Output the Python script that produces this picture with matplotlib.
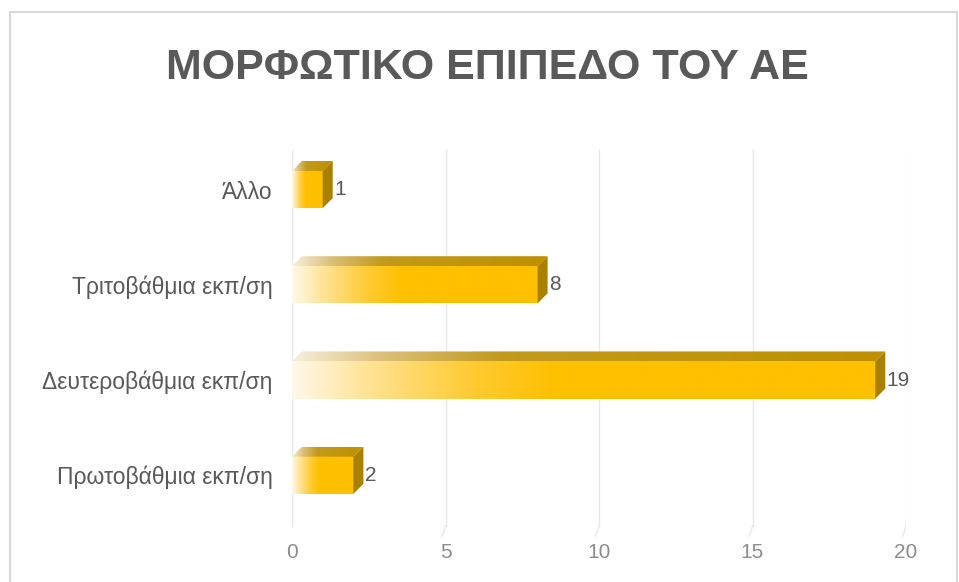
import numpy as np
import matplotlib
matplotlib.use('Agg')
import matplotlib.pyplot as plt
from matplotlib.colors import LinearSegmentedColormap
from matplotlib.patches import Polygon, Rectangle

# datos del grafico
categorias = ['Πρωτοβάθμια εκπ/ση', 'Δευτεροβάθμια εκπ/ση', 'Τριτοβάθμια εκπ/ση', 'Άλλο']
valores = [2, 19, 8, 1]
marcas_x = [0, 5, 10, 15, 20]
titulo = 'ΜΟΡΦΩΤΙΚΟ ΕΠΙΠΕΔΟ ΤΟΥ ΑΕ'

fuente = ['Liberation Sans', 'DejaVu Sans']
gris = '#595959'

fig = plt.figure(figsize=(9.59, 5.82), dpi=100)
fig.patch.set_facecolor('white')

# marco gris del area del grafico
fig.patches.append(Rectangle((10 / 959, -0.01), 947 / 959, 1 - 12 / 582 + 0.01,
                             transform=fig.transFigure, fill=False,
                             edgecolor='#d9d9d9', linewidth=1.5))

ax = fig.add_axes([292 / 959, 42 / 582, 614 / 959, 400 / 582])
ax.set_facecolor('none')

xmin, xmax = 0, 20
ymin, ymax = -0.68, 3.52
alto = 0.39
dx = 10 / (614 / 20)
dy = 10 / 95.3

frente = LinearSegmentedColormap.from_list('frente', [
    (0.0, '#fff8ea'), (0.12, '#ffe49a'), (0.3, '#ffcb35'), (0.45, '#ffc000'), (1.0, '#ffc000')])
tapa = LinearSegmentedColormap.from_list('tapa', [
    (0.0, '#f7efdc'), (0.15, '#dcc07a'), (0.35, '#c29a1c'), (1.0, '#bf9000')])
grad = np.linspace(0, 1, 256).reshape(1, -1)

# lineas de division con el pie curvado del suelo 3D
for x in marcas_x:
    ax.plot([x, x], [-0.53, 3.42], color='#e8e8e8', lw=1.0, zorder=1)
    ax.plot([x, x - 0.06, x - 0.12], [-0.53, -0.6, -0.64], color='#e8e8e8', lw=1.0, zorder=1)

for i, v in enumerate(valores):
    y0, y1 = i - alto / 2, i + alto / 2
    ax.imshow(grad, cmap=frente, extent=(0, v, y0, y1), aspect='auto',
              interpolation='bilinear', zorder=3)
    cara_sup = Polygon([(0, y1), (v, y1), (v + dx, y1 + dy), (dx, y1 + dy)],
                       closed=True, facecolor='none', edgecolor='none')
    ax.add_patch(cara_sup)
    im = ax.imshow(grad, cmap=tapa, extent=(0, v + dx, y1, y1 + dy), aspect='auto',
                   interpolation='bilinear', zorder=3)
    im.set_clip_path(cara_sup)
    ax.add_patch(Polygon([(v, y0), (v + dx, y0 + dy), (v + dx, y1 + dy), (v, y1)],
                         closed=True, facecolor='#a98000', edgecolor='none', zorder=3))
    ax.text(v + dx + 0.05, i, str(v), va='center', ha='left', fontsize=15,
            color=gris, family=fuente)

ax.set_xlim(xmin, xmax)
ax.set_ylim(ymin, ymax)
ax.set_xticks(marcas_x)
ax.set_xticklabels([str(m) for m in marcas_x], color='#8c8c8c', fontsize=15, family=fuente)
ax.set_yticks(range(len(categorias)))
ax.set_yticklabels(categorias, color=gris, fontsize=16.5, family=fuente)
ax.tick_params(length=0)
ax.tick_params(axis='x', pad=2)
ax.tick_params(axis='y', pad=14)
for s in ax.spines.values():
    s.set_visible(False)

fig.text(487 / 959, 1 - 68 / 582, titulo, ha='center', va='center', fontsize=31,
         fontweight='bold', color=gris, family=fuente)

fig.savefig('out.png', dpi=100)
